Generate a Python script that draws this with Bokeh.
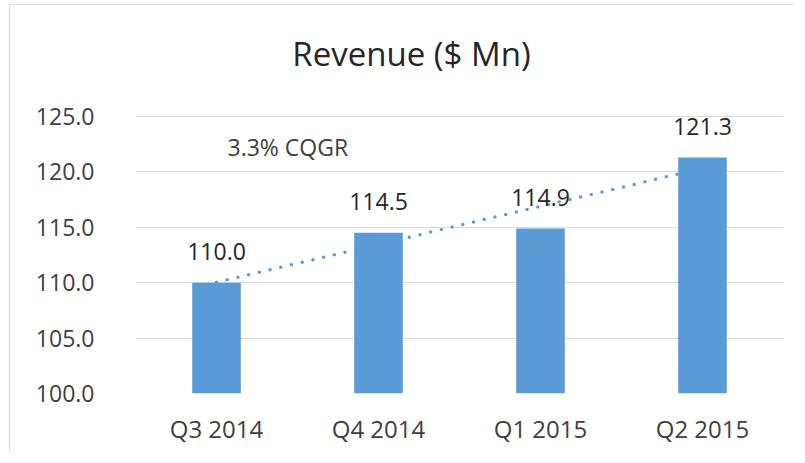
import numpy as np
from bokeh.plotting import figure
from bokeh.models import Range1d, FixedTicker, NumeralTickFormatter, Label, ColumnDataSource
from bokeh.core.properties import value
from bokeh.embed import file_html
from bokeh.resources import INLINE

# ---- data ----
quarters = ["Q3 2014", "Q4 2014", "Q1 2015", "Q2 2015"]
revenue = [110.0, 114.5, 114.9, 121.3]
revenue_labels = ["110.0", "114.5", "114.9", "121.3"]
y_ticks = [100, 105, 110, 115, 120, 125]
title_text = "Revenue ($ Mn)"
cqgr_text = "3.3% CQGR"

FONT = "Open Sans"
BLUE = "#5B9BD5"
TXT = "#404040"

# layout (pixels, relative to the figure's content origin)
OX, OY = 10, 5                      # chart-area border offset in the page
W, H = 795 - OX, 452 - OY
FRAME_LEFT, FRAME_RIGHT = 135 - OX, 783 - OX
FRAME_TOP, FRAME_BOTTOM = 16 - OY, 393 - OY
PX_PER_UNIT = 277 / 25.0            # gridline 100 -> 125 spans 277 px
y_end = 100 + (FRAME_BOTTOM - FRAME_TOP) / PX_PER_UNIT

p = figure(x_range=quarters, y_range=Range1d(100, y_end),
           width=W, height=H, output_backend="svg", toolbar_location=None,
           min_border_left=FRAME_LEFT, min_border_right=W - FRAME_RIGHT,
           min_border_top=FRAME_TOP, min_border_bottom=H - FRAME_BOTTOM,
           margin=(OY - 1, 0, 0, OX - 1))
p.styles = {"border-top": "1px solid #d9d9d9", "border-left": "1px solid #d9d9d9"}
p.outline_line_color = None
p.background_fill_color = "white"
p.border_fill_color = "white"

# linear trendline (behind bars)
idx = np.arange(len(revenue))
coef = np.polyfit(idx, revenue, 1)
trend = np.polyval(coef, idx)
p.line(x=quarters, y=trend, line_color=BLUE, line_width=3.5, line_dash="0 11", line_cap="round")

src = ColumnDataSource(dict(q=quarters, v=revenue, lab=revenue_labels))
p.vbar(x="q", top="v", bottom=100, width=0.30, source=src, fill_color=BLUE, line_color=None)

p.text(x="q", y="v", text="lab", source=src, text_align="center", text_baseline="alphabetic",
       y_offset=-31, text_font=value(FONT), text_font_size="23px", text_color="#262626")

# axes
p.yaxis.ticker = FixedTicker(ticks=y_ticks)
p.yaxis.formatter = NumeralTickFormatter(format="0.0")
p.yaxis.axis_line_color = None
p.yaxis.major_tick_line_color = None
p.yaxis.minor_tick_line_color = None
p.yaxis.major_label_standoff = 35
p.yaxis.major_label_text_font = FONT
p.yaxis.major_label_text_font_size = "23px"
p.yaxis.major_label_text_color = TXT

p.xaxis.axis_line_color = None
p.xaxis.major_tick_line_color = None
p.xaxis.major_label_standoff = 12
p.xaxis.major_label_text_font = FONT
p.xaxis.major_label_text_font_size = "24px"
p.xaxis.major_label_text_color = TXT

p.xgrid.grid_line_color = None
p.ygrid.grid_line_color = "#d9d9d9"
p.ygrid.grid_line_width = 1

# title and annotation (screen units relative to plot frame)
p.add_layout(Label(x=411 - 135, y=393 - 53, x_units="screen", y_units="screen",
                   text=title_text, text_align="center", text_baseline="alphabetic",
                   text_font=FONT, text_font_size="33px", text_color="#262626"))
p.add_layout(Label(x=227 - 135, y=393 - 146, x_units="screen", y_units="screen",
                   text=cqgr_text, text_align="left", text_baseline="alphabetic",
                   text_font=FONT, text_font_size="23px", text_color=TXT))

open("out.html", "w").write(file_html(p, INLINE))
